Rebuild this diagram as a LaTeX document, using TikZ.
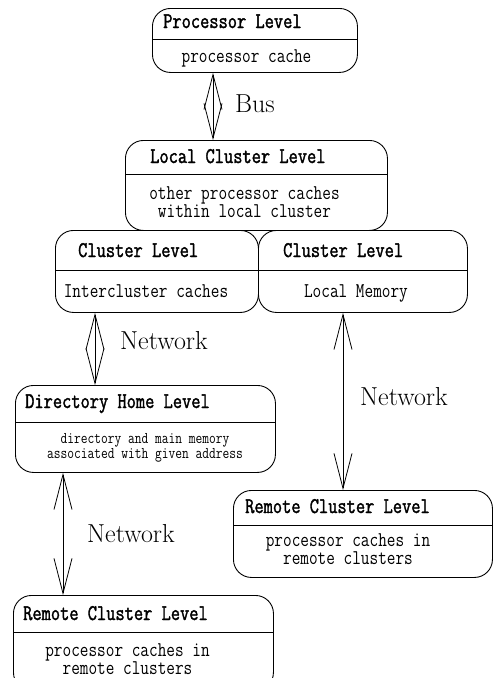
\documentclass[tikz,border=0pt]{standalone}
\usepackage{fontspec}
\usetikzlibrary{arrows.meta}
\newfontfamily\headfont[FakeStretch=0.8,FakeBold=1.6]{Latin Modern Mono}
\newfontfamily\plainfont[FakeStretch=0.8]{Latin Modern Mono}
\begin{document}
\begin{tikzpicture}[x=1pt,y=-1pt,
  levelbox/.style={draw, line width=0.9pt, rounded corners=18pt, inner sep=0pt, anchor=north west},
  divider/.style={line width=0.9pt},
  headtext/.style={inner sep=0pt, anchor=base west, font=\headfont\fontsize{22.4}{24}\selectfont},
  bodytext/.style={inner sep=0pt, anchor=base, font=\plainfont\fontsize{21}{18}\selectfont},
  bodypair/.style={inner sep=0pt, anchor=north, align=center, font=\plainfont\fontsize{21}{18}\selectfont},
  smallpair/.style={inner sep=0pt, anchor=north, align=center, font=\plainfont\fontsize{16.4}{14.5}\selectfont},
  linklabel/.style={inner sep=0pt, anchor=base west, font=\fontsize{26}{30}\selectfont},
  link/.style={line width=0.8pt, {Straight Barb[length=35pt,width=18pt]}-{Straight Barb[length=35pt,width=18pt]}}]
\useasboundingbox (0,0) rectangle (494,678);
\clip (0,0) rectangle (494,678);

% level boxes
\node[levelbox, minimum width=205pt, minimum height=64pt] (proc) at (152,8) {};
\node[levelbox, minimum width=262pt, minimum height=90pt] (lcl) at (125,140) {};
\node[levelbox, minimum width=203pt, minimum height=82pt] (clL) at (55,230) {};
\node[levelbox, minimum width=209pt, minimum height=82pt] (clR) at (258,230) {};
\node[levelbox, minimum width=260pt, minimum height=87pt] (dir) at (15,385) {};
\node[levelbox, minimum width=259pt, minimum height=87pt] (remR) at (233,490) {};
\node[levelbox, minimum width=260pt, minimum height=95pt] (remL) at (13,595) {};

% title / content dividers
\draw[divider] (proc.west |- 0,39) -- (proc.east |- 0,39);
\draw[divider] (lcl.west |- 0,174) -- (lcl.east |- 0,174);
\draw[divider] (clL.west |- 0,270) -- (clL.east |- 0,270);
\draw[divider] (clR.west |- 0,270) -- (clR.east |- 0,270);
\draw[divider] (dir.west |- 0,422) -- (dir.east |- 0,422);
\draw[divider] (remR.west |- 0,525) -- (remR.east |- 0,525);
\draw[divider] (remL.west |- 0,632) -- (remL.east |- 0,632);

% titles
\node[headtext] (procT) at (163,28) {Processor Level};
\node[headtext] (lclT) at (150,163) {Local Cluster Level};
\node[headtext] (clLT) at (78,257) {Cluster Level};
\node[headtext] (clRT) at (283,257) {Cluster Level};
\node[headtext] (dirT) at (25,408) {Directory Home Level};
\node[headtext] (remRT) at (245,513) {Remote Cluster Level};
\node[headtext] (remLT) at (23,620) {Remote Cluster Level};

% contents
\node[bodytext] (procB) at (246.5,62) {processor cache};
\node[bodypair] (lclB) at (244.5,186) {other processor caches\\within local cluster};
\node[bodytext] (clLB) at (146,297) {Intercluster caches};
\node[bodytext] (clRB) at (356,297) {Local Memory};
\node[smallpair] (dirB) at (145,433.5) {directory and main memory\\associated with given address};
\node[bodypair] (remRB) at (348,533) {processor caches in\\remote clusters};
\node[bodypair] (remLB) at (127.5,643) {processor caches in\\remote clusters};

% links between levels
\draw[link] (proc.south -| 213,0) -- (lcl.north -| 213,0);
\draw[link] (clL.south -| 95,0) -- (dir.north -| 95,0);
\draw[link] (clR.south -| 343,0) -- (remR.north -| 343,0);
\draw[link] (dir.south -| 63,0) -- (remL.north -| 63,0);

% link labels
\node[linklabel] (busLbl) at (235,112) {Bus};
\node[linklabel] (netA) at (120,349) {Network};
\node[linklabel] (netB) at (360,405) {Network};
\node[linklabel] (netC) at (87,542) {Network};
\end{tikzpicture}
\end{document}
